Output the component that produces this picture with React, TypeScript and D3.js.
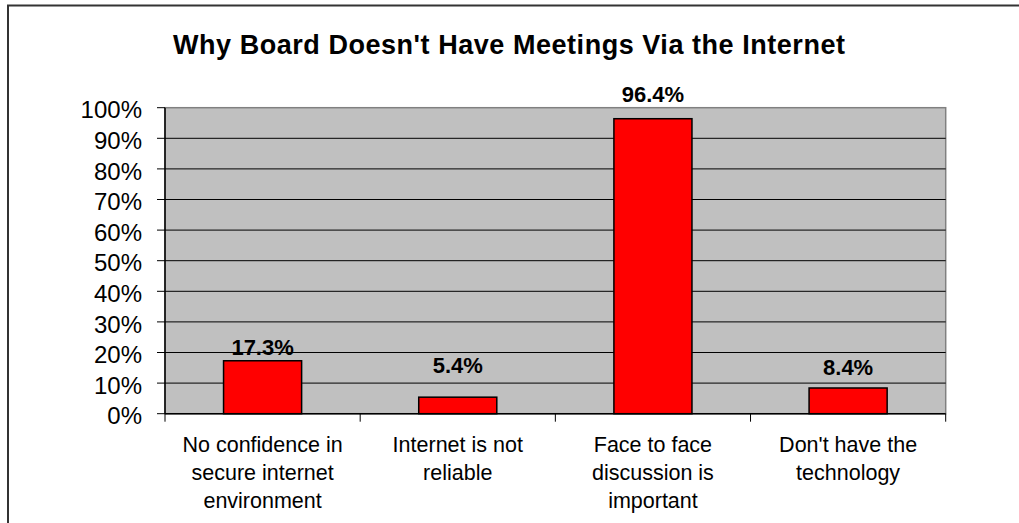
import React from "react";
import * as d3 from "d3";

const title = "Why Board Doesn't Have Meetings Via the Internet";
const categories = [
  "No confidence in\nsecure internet\nenvironment",
  "Internet is not\nreliable",
  "Face to face\ndiscussion is\nimportant",
  "Don't have the\ntechnology",
];
const values = [0.173, 0.054, 0.964, 0.084];
const valueLabels = ["17.3%", "5.4%", "96.4%", "8.4%"];
const yTicks = [0, 0.1, 0.2, 0.3, 0.4, 0.5, 0.6, 0.7, 0.8, 0.9, 1.0];

// layout (label offsets above bar tops, as placed in the original)
const labelOffsets = [5.5, 24, 16.5, 13];

const W = 1019;
const H = 523;
const plot = { left: 165, right: 945.7, top: 107.7, bottom: 413.7 };
const FONT = "Arial, 'Liberation Sans', Helvetica, sans-serif";

export default function App() {
  const x = d3
    .scaleBand<string>()
    .domain(categories)
    .range([plot.left, plot.right])
    .paddingInner(0.6)
    .paddingOuter(0.3);
  const y = d3.scaleLinear().domain([0, 1]).range([plot.bottom, plot.top]);
  const step = x.step();
  const boundaries = d3.range(categories.length + 1).map((i) => plot.left + i * step);
  const fmt = d3.format(".0%");

  return (
    <div style={{ position: "fixed", left: 0, top: 0, width: W, height: H, background: "#fff" }}>
      <svg width={W} height={H} style={{ display: "block" }} fontFamily={FONT}>
        {/* outer chart border */}
        <rect x={8} y={5.5} width={W + 20} height={H + 20} fill="#fff" stroke="#333" strokeWidth={2} />

        {/* title */}
        <text
          x={509}
          y={54.3}
          textAnchor="middle"
          fontSize={27}
          fontWeight="bold"
          fill="#000"
          textLength={672}
          lengthAdjust="spacing"
        >
          {title}
        </text>

        {/* plot area */}
        <rect
          x={plot.left}
          y={plot.top}
          width={plot.right - plot.left}
          height={plot.bottom - plot.top}
          fill="#C0C0C0"
          stroke="#808080"
          strokeWidth={1.5}
        />

        {/* gridlines */}
        {yTicks
          .filter((t) => t > 0 && t < 1)
          .map((t) => (
            <line key={t} x1={plot.left} x2={plot.right} y1={y(t)} y2={y(t)} stroke="#000" strokeWidth={1} />
          ))}

        {/* bars */}
        {categories.map((c, i) => (
          <rect
            key={c}
            x={x(c)!}
            y={y(values[i])}
            width={x.bandwidth()}
            height={y(0) - y(values[i])}
            fill="#FF0000"
            stroke="#000"
            strokeWidth={1.5}
          />
        ))}

        {/* data labels */}
        {categories.map((c, i) => (
          <text
            key={c}
            x={x(c)! + x.bandwidth() / 2}
            y={y(values[i]) - labelOffsets[i]}
            textAnchor="middle"
            fontSize={22}
            fontWeight="bold"
            fill="#000"
          >
            {valueLabels[i]}
          </text>
        ))}

        {/* y axis */}
        <line x1={plot.left} x2={plot.left} y1={plot.top} y2={plot.bottom} stroke="#000" strokeWidth={1.5} />
        {yTicks.map((t) => (
          <g key={t}>
            <line x1={plot.left - 8} x2={plot.left} y1={y(t)} y2={y(t)} stroke="#000" strokeWidth={1} />
            <text x={142} y={y(t) + 10.6} textAnchor="end" fontSize={24} fill="#000">
              {fmt(t)}
            </text>
          </g>
        ))}

        {/* x axis */}
        <line x1={plot.left} x2={plot.right} y1={plot.bottom} y2={plot.bottom} stroke="#000" strokeWidth={1.5} />
        {boundaries.map((b, i) => (
          <line key={i} x1={b} x2={b} y1={plot.bottom} y2={plot.bottom + 8} stroke="#000" strokeWidth={1} />
        ))}
        {categories.map((c) => (
          <text key={c} textAnchor="middle" fontSize={21.5} fill="#000">
            {c.split("\n").map((line, j) => (
              <tspan key={j} x={x(c)! + x.bandwidth() / 2} y={452 + j * 28}>
                {line}
              </tspan>
            ))}
          </text>
        ))}
      </svg>
    </div>
  );
}
